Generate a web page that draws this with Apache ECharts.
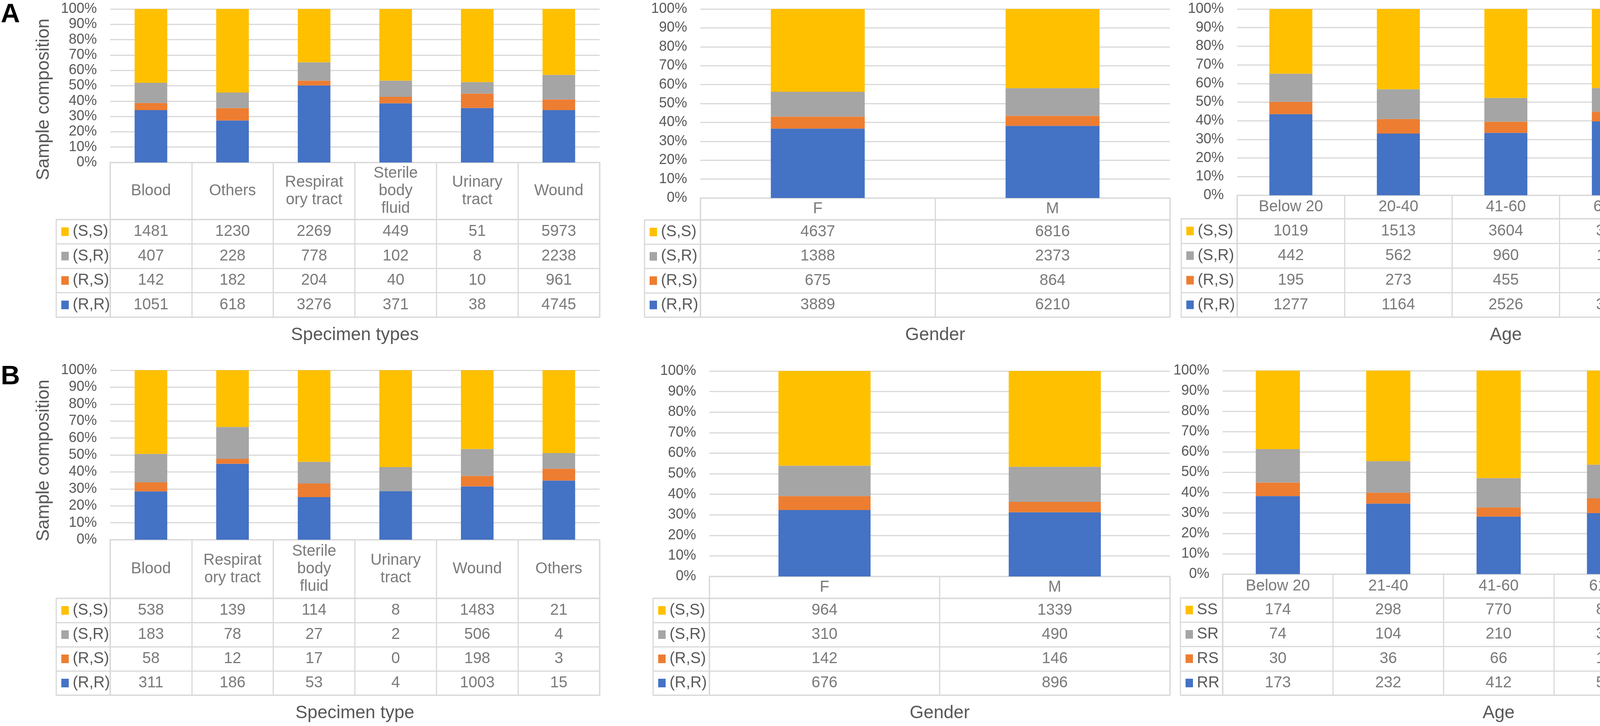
<!DOCTYPE html>
<html>
<head>
<meta charset="utf-8">
<title>Sample composition</title>
<script src="https://cdn.jsdelivr.net/npm/echarts@6/dist/echarts.min.js"></script>
<style>html,body{margin:0;padding:0;background:#fff;}</style>
</head>
<body>
<div id="main" style="width:4550px;height:1859px;"></div>
<script>
// row labels of the data tables (top to bottom)
var rowsA = ['(S,S)', '(S,R)', '(R,S)', '(R,R)'];
var rowsB3 = ['SS', 'SR', 'RS', 'RR'];

// A - specimen types
var a1Cats = ['Blood', 'Others', 'Respiratory tract', 'Sterile body fluid', 'Urinary tract', 'Wound'];
var a1Heads = ['Blood', 'Others', 'Respirat\nory tract', 'Sterile\nbody\nfluid', 'Urinary\ntract', 'Wound'];
var a1SS = [1481, 1230, 2269, 449, 51, 5973];
var a1SR = [407, 228, 778, 102, 8, 2238];
var a1RS = [142, 182, 204, 40, 10, 961];
var a1RR = [1051, 618, 3276, 371, 38, 4745];

// A - gender
var a2Cats = ['F', 'M'];
var a2SS = [4637, 6816];
var a2SR = [1388, 2373];
var a2RS = [675, 864];
var a2RR = [3889, 6210];

// A - age
var a3Cats = ['Below 20', '20-40', '41-60', '61-80', 'Above 80'];
var a3SS = [1019, 1513, 3604, 3879, 1438];
var a3SR = [442, 562, 960, 1171, 626];
var a3RS = [195, 273, 455, 477, 139];
var a3RR = [1277, 1164, 2526, 3626, 1506];

// B - specimen type
var b1Cats = ['Blood', 'Respiratory tract', 'Sterile body fluid', 'Urinary tract', 'Wound', 'Others'];
var b1Heads = ['Blood', 'Respirat\nory tract', 'Sterile\nbody\nfluid', 'Urinary\ntract', 'Wound', 'Others'];
var b1SS = [538, 139, 114, 8, 1483, 21];
var b1SR = [183, 78, 27, 2, 506, 4];
var b1RS = [58, 12, 17, 0, 198, 3];
var b1RR = [311, 186, 53, 4, 1003, 15];

// B - gender
var b2Cats = ['F', 'M'];
var b2SS = [964, 1339];
var b2SR = [310, 490];
var b2RS = [142, 146];
var b2RR = [676, 896];

// B - age
var b3Cats = ['Below 20', '21-40', '41-60', '61-80', 'Above 80'];
var b3SS = [174, 298, 770, 844, 217];
var b3SR = [74, 104, 210, 303, 109];
var b3RS = [30, 36, 66, 132, 24];
var b3RR = [173, 232, 412, 548, 207];

var colors = ['#FFC000', '#A5A5A5', '#ED7D31', '#4472C4']; // SS, SR, RS, RR
var line = '#D9D9D9';
var txt = '#595959';
var font = '"Liberation Sans", Arial, sans-serif';

var panels = [
    {cats: a1Cats, heads: a1Heads, vals: [a1SS, a1SR, a1RS, a1RR], rows: rowsA, title: 'Specimen types', yName: true, namePad: 70,
     legL: 144, plotL: 282, plotR: 1535, top: 23, bottom: 416, head: 562, tableB: 812},
    {cats: a2Cats, heads: a2Cats, vals: [a2SS, a2SR, a2RS, a2RR], rows: rowsA, title: 'Gender',
     legL: 1650, plotL: 1793, plotR: 2995, top: 23, bottom: 507, head: 563, tableB: 812},
    {cats: a3Cats, heads: a3Cats, vals: [a3SS, a3SR, a3RS, a3RR], rows: rowsA, title: 'Age',
     legL: 3024, plotL: 3167, plotR: 4543, top: 23, bottom: 500, head: 560, tableB: 812},
    {cats: b1Cats, heads: b1Heads, vals: [b1SS, b1SR, b1RS, b1RR], rows: rowsA, title: 'Specimen type', yName: true, namePad: 28,
     legL: 144, plotL: 282, plotR: 1535, top: 948, bottom: 1382, head: 1532, tableB: 1780},
    {cats: b2Cats, heads: b2Cats, vals: [b2SS, b2SR, b2RS, b2RR], rows: rowsA, title: 'Gender',
     legL: 1672, plotL: 1816, plotR: 2995, top: 950, bottom: 1476, head: 1532, tableB: 1780},
    {cats: b3Cats, heads: b3Cats, vals: [b3SS, b3SR, b3RS, b3RR], rows: rowsB3, title: 'Age',
     legL: 3022, plotL: 3130, plotR: 4543, top: 949, bottom: 1470, head: 1531, tableB: 1780}
];

var grid = [], xAxis = [], yAxis = [], series = [];
var hidden = {show: false};
var split = {show: true, interval: 0, lineStyle: {color: line, width: 3}};
var cellLabel = {show: true, position: 'inside', fontSize: 40, lineHeight: 45, color: txt, fontFamily: font};

function addPanel(p) {
    var g = grid.length;
    var w = p.plotR - p.plotL;
    var totals = p.cats.map(function (c, i) {
        return p.vals.reduce(function (s, v) { return s + v[i]; }, 0);
    });
    var rowsUp = p.rows.slice().reverse();

    // stacked 100% bars
    grid.push({left: p.plotL, width: w, top: p.top, height: p.bottom - p.top});
    xAxis.push({gridIndex: g, type: 'category', data: p.cats, axisLabel: hidden, axisTick: hidden,
        axisLine: {lineStyle: {color: line, width: 3}}});
    yAxis.push({gridIndex: g, type: 'value', min: 0, max: 100, interval: 10,
        axisLabel: {formatter: '{value}%', fontSize: 36, color: txt, margin: 34},
        splitLine: {lineStyle: {color: line, width: 3}},
        name: p.yName ? 'Sample composition' : '', nameLocation: 'middle', nameGap: 147,
        nameTextStyle: {fontSize: 46, color: txt, padding: [0, p.namePad || 0, 0, 0]}});
    for (var k = 3; k >= 0; k--) {
        series.push({type: 'bar', xAxisIndex: g, yAxisIndex: g, stack: 's' + g, barWidth: '40%',
            itemStyle: {color: colors[k]},
            data: p.vals[k].map(function (v, i) { return v / totals[i] * 100; })});
    }

    // header row with category names
    grid.push({left: p.plotL, width: w, top: p.bottom, height: p.head - p.bottom,
        show: true, borderColor: line, borderWidth: 3});
    xAxis.push({gridIndex: g + 1, type: 'category', data: p.cats, axisLabel: hidden, axisTick: hidden,
        axisLine: hidden, splitLine: split});
    yAxis.push({gridIndex: g + 1, type: 'category', data: ['h'], show: false});
    series.push({type: 'scatter', xAxisIndex: g + 1, yAxisIndex: g + 1, symbolSize: 1,
        itemStyle: {color: 'rgba(0,0,0,0)'},
        label: Object.assign({formatter: function (d) { return p.heads[d.dataIndex]; }}, cellLabel),
        data: p.cats.map(function (c, i) { return [i, 0]; })});

    // value cells
    grid.push({left: p.plotL, width: w, top: p.head, height: p.tableB - p.head,
        show: true, borderColor: line, borderWidth: 3});
    xAxis.push({gridIndex: g + 2, type: 'category', data: p.cats, axisLabel: hidden, axisTick: hidden,
        axisLine: hidden, splitLine: split,
        name: p.title, nameLocation: 'middle', nameGap: 23,
        nameTextStyle: {fontSize: 46, color: txt}});
    yAxis.push({gridIndex: g + 2, type: 'category', data: rowsUp, axisLabel: hidden, axisTick: hidden,
        axisLine: hidden, splitLine: split});
    var cells = [];
    p.vals.forEach(function (row, r) {
        row.forEach(function (v, i) { cells.push([i, 3 - r, v]); });
    });
    series.push({type: 'scatter', xAxisIndex: g + 2, yAxisIndex: g + 2, symbolSize: 1,
        itemStyle: {color: 'rgba(0,0,0,0)'},
        label: Object.assign({formatter: function (d) { return String(d.value[2]); }}, cellLabel),
        data: cells});

    // legend column of the table
    grid.push({left: p.legL, width: p.plotL - p.legL, top: p.head, height: p.tableB - p.head,
        show: true, borderColor: line, borderWidth: 3});
    xAxis.push({gridIndex: g + 3, type: 'category', data: [''], show: false});
    yAxis.push({gridIndex: g + 3, type: 'category', data: rowsUp, axisTick: hidden, axisLine: hidden,
        splitLine: split,
        axisLabel: {inside: true, margin: 13, interval: 0,
            formatter: function (v, idx) { return '{c' + (3 - idx) + '| }{t|' + v + '}'; },
            rich: {
                c0: {width: 19, height: 22, backgroundColor: colors[0]},
                c1: {width: 19, height: 22, backgroundColor: colors[1]},
                c2: {width: 19, height: 22, backgroundColor: colors[2]},
                c3: {width: 19, height: 22, backgroundColor: colors[3]},
                t: {fontSize: 40, color: txt, padding: [0, 0, 0, 10], fontFamily: font}
            }}});
}

panels.forEach(addPanel);

var myChart = echarts.init(document.getElementById('main'));
myChart.setOption({
    animation: false,
    textStyle: {fontFamily: font},
    title: [
        {text: 'A', left: 2, top: 4, padding: 0, textStyle: {fontSize: 68, fontWeight: 'bold', color: '#000'}},
        {text: 'B', left: 2, top: 931, padding: 0, textStyle: {fontSize: 68, fontWeight: 'bold', color: '#000'}}
    ],
    grid: grid,
    xAxis: xAxis,
    yAxis: yAxis,
    series: series
});
</script>
</body>
</html>
